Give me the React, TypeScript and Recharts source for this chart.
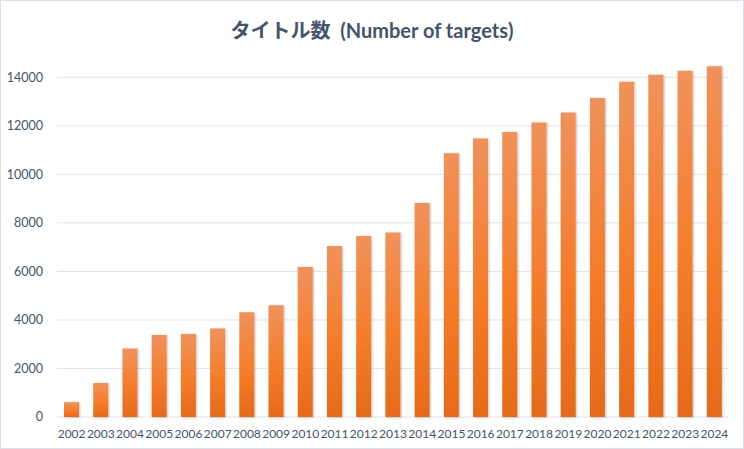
import { Bar, BarChart, CartesianGrid, XAxis, YAxis } from "recharts";

const years = [
  "2002", "2003", "2004", "2005", "2006", "2007", "2008", "2009", "2010", "2011", "2012", "2013",
  "2014", "2015", "2016", "2017", "2018", "2019", "2020", "2021", "2022", "2023", "2024",
];
const targets = [
  610, 1400, 2820, 3380, 3420, 3650, 4320, 4600, 6180, 7050, 7460, 7600,
  8820, 10870, 11480, 11740, 12140, 12550, 13150, 13820, 14100, 14270, 14450,
];
const yTicks = [0, 2000, 4000, 6000, 8000, 10000, 12000, 14000];

const data = years.map((year, i) => ({ year, value: targets[i] }));

const TEXT = "#44546a";
const FONT = "Lato, 'Noto Sans CJK JP', sans-serif";

export default function App() {
  return (
    <div
      style={{
        position: "fixed",
        top: 0,
        left: 0,
        width: 744,
        height: 449,
        boxSizing: "border-box",
        border: "1px solid #dbe0e8",
        background: "#fff",
        fontFamily: FONT,
      }}
    >
      <div
        style={{
          position: "absolute",
          top: 14,
          left: 0,
          width: "100%",
          textAlign: "center",
          fontWeight: 700,
          fontSize: 20,
          color: TEXT,
          whiteSpace: "pre",
        }}
      >
        タイトル数  (Number of targets)
      </div>
      <div style={{ position: "absolute", top: -1, left: -1 }}>
        <BarChart
          width={744}
          height={449}
          data={data}
          margin={{ top: 53, right: 15, bottom: 0, left: 0 }}
          barCategoryGap="24%"
        >
          <defs>
            <linearGradient id="barFill" x1="0" y1="0" x2="0" y2="1">
              <stop offset="0%" stopColor="#f0925c" />
              <stop offset="55%" stopColor="#f47d2b" />
              <stop offset="100%" stopColor="#e56a1a" />
            </linearGradient>
            <filter id="barShadow" x="-30%" y="-5%" width="160%" height="115%">
              <feDropShadow dx="1" dy="0.5" stdDeviation="1" floodColor="#000" floodOpacity="0.25" />
            </filter>
          </defs>
          <CartesianGrid vertical={false} stroke="#e3e3e8" horizontalValues={yTicks} />
          <XAxis
            dataKey="year"
            axisLine={false}
            tickLine={false}
            tickSize={0}
            tickMargin={12}
            height={32}
            interval={0}
            tick={{ fill: TEXT, fontSize: 12, fontFamily: FONT }}
          />
          <YAxis
            domain={[0, 15000]}
            ticks={yTicks}
            axisLine={false}
            tickLine={false}
            tickSize={0}
            tickMargin={14}
            width={57}
            tick={{ fill: TEXT, fontSize: 12.5, fontFamily: FONT }}
          />
          <Bar
            dataKey="value"
            fill="url(#barFill)"
            filter="url(#barShadow)"
            isAnimationActive={false}
          />
        </BarChart>
      </div>
    </div>
  );
}
